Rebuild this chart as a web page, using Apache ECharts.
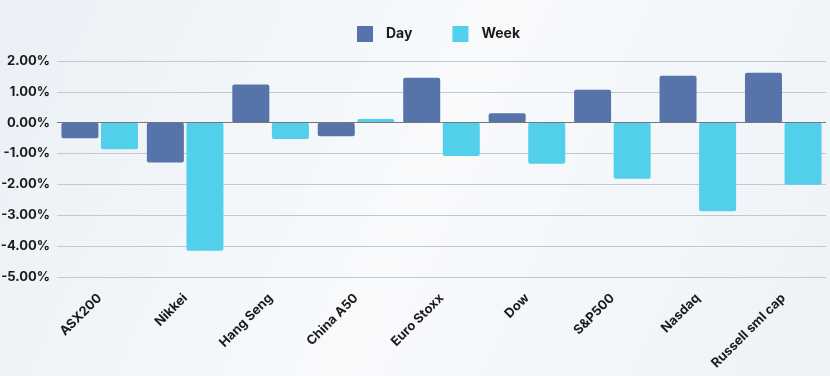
<!DOCTYPE html>
<html>
<head>
<meta charset="utf-8">
<script src="https://cdn.jsdelivr.net/npm/echarts@6/dist/echarts.min.js"></script>
<style>
  html, body { margin: 0; padding: 0; }
  #chart { width: 830px; height: 376px; }
</style>
</head>
<body>
<div id="chart"></div>
<script>
let categories = ['ASX200', 'Nikkei', 'Hang Seng', 'China A50', 'Euro Stoxx', 'Dow', 'S&P500', 'Nasdaq', 'Russell sml cap'];
let dayValues = [-0.50, -1.29, 1.24, -0.44, 1.46, 0.31, 1.07, 1.52, 1.62];
let weekValues = [-0.86, -4.15, -0.53, 0.12, -1.08, -1.33, -1.82, -2.87, -2.01];

let myChart = echarts.init(document.getElementById('chart'));

let option = {
  backgroundColor: {
    type: 'linear', x: 0, y: 0, x2: 1, y2: 1,
    colorStops: [
      { offset: 0, color: '#eaf0f6' },
      { offset: 0.5, color: '#f8fafc' },
      { offset: 1, color: '#eef2f7' }
    ]
  },
  textStyle: { fontFamily: 'Inter' },
  legend: {
    top: 21,
    left: 352,
    itemWidth: 16,
    itemHeight: 16,
    itemGap: 40,
    icon: 'rect',
    textStyle: { fontSize: 14, fontWeight: 'bold', color: '#1a1a1a', padding: [0, 0, 0, 8] },
    data: ['Day', 'Week']
  },
  grid: { left: 57, right: 4, top: 61, bottom: 99, outerBoundsMode: 'none', containLabel: false },
  xAxis: {
    type: 'category',
    data: categories,
    axisLine: { show: false, onZero: false },
    axisTick: { show: false },
    axisLabel: {
      interval: 0,
      rotate: 45,
      margin: 19,
      fontSize: 13,
      fontWeight: 'bold',
      color: '#1a1a1a'
    }
  },
  yAxis: {
    type: 'value',
    min: -5,
    max: 2,
    interval: 1,
    axisLine: { show: false },
    axisTick: { show: false },
    splitLine: { lineStyle: { color: '#c4c7cc', width: 1 } },
    axisLabel: {
      margin: 7,
      fontSize: 13,
      fontWeight: 'bold',
      color: '#1a1a1a',
      formatter: v => v.toFixed(2) + '%'
    }
  },
  series: [
    {
      name: 'Day',
      type: 'bar',
      data: dayValues,
      barWidth: 37,
      barGap: '7%',
      itemStyle: { color: '#5674aa', borderRadius: 2 },
      markLine: {
        silent: true,
        symbol: 'none',
        label: { show: false },
        lineStyle: { color: '#777', type: 'solid', width: 1 },
        data: [{ yAxis: 0 }]
      }
    },
    {
      name: 'Week',
      type: 'bar',
      data: weekValues,
      barWidth: 37,
      itemStyle: { color: '#52cfeb', borderRadius: 2 }
    }
  ]
};

myChart.setOption(option);
</script>
</body>
</html>
